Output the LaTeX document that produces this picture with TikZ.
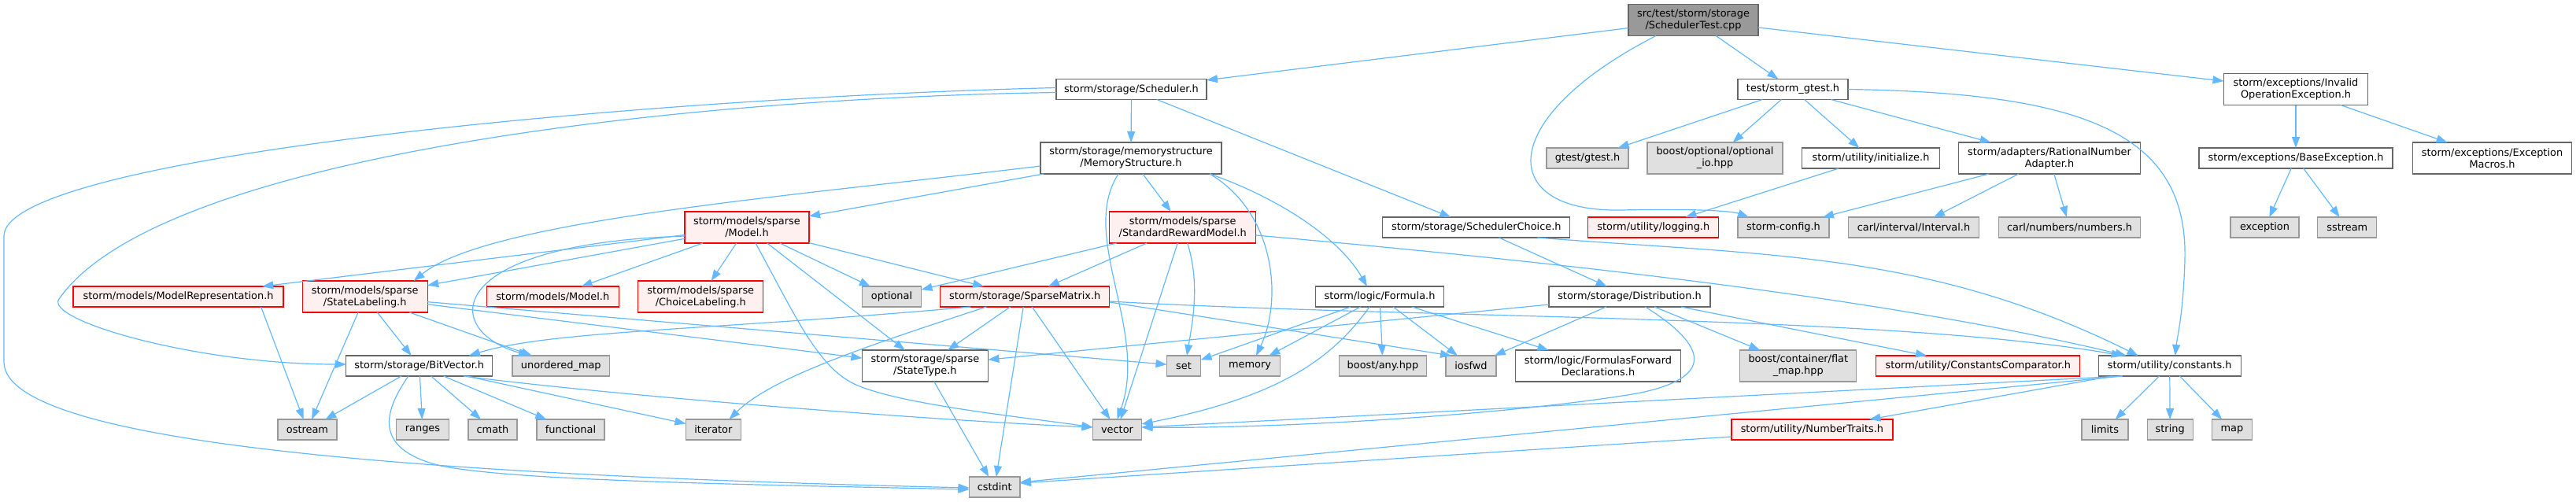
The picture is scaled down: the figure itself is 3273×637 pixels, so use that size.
\documentclass[tikz,border=0pt]{standalone}
\usepackage{fontspec}
\setmainfont{DejaVu Sans}
\usetikzlibrary{arrows.meta}
\definecolor{edgeblue}{HTML}{63B8FF}
\definecolor{bordgray}{HTML}{666666}
\definecolor{lightbord}{HTML}{999999}
\definecolor{extfill}{HTML}{E0E0E0}
\definecolor{redfill}{HTML}{FFF0F0}
\definecolor{redbord}{HTML}{FF0000}
\definecolor{rootfill}{HTML}{999999}
\begin{document}
\begin{tikzpicture}[x=1pt,y=-1pt,
  box/.style={rectangle, inner sep=0pt, outer sep=0pt, line width=1.3pt, align=center, font=\fontsize{12.9}{15}\selectfont, text=black},
  nwhite/.style={box, draw=bordgray, fill=white},
  ngray/.style={box, draw=lightbord, fill=extfill},
  nred/.style={box, draw=redbord, fill=redfill},
  nroot/.style={box, draw=bordgray, fill=rootfill},
  sa/.style={minimum height=26pt},
  sb/.style={minimum height=40pt},
  dep/.style={draw=edgeblue, line width=1.2pt, -{Triangle[length=14pt,width=10pt]}}
]
\useasboundingbox (0,0) rectangle (3273,637);

% row 0
\node[nroot,sb,minimum width=165pt] (root) at (2151.5,25.5) {src/test/storm/storage\\/SchedulerTest.cpp};
% row 1
\node[nwhite,sa,minimum width=191pt] (sched) at (1437.5,113.5) {storm/storage/Scheduler.h};
\node[nwhite,sa,minimum width=140pt] (gtst) at (2278,113.5) {test/storm\_gtest.h};
\node[nwhite,sb,minimum width=183pt] (invop) at (2917,113.5) {storm/exceptions/Invalid\\OperationException.h};
% row 2
\node[nwhite,sb,minimum width=230pt] (memstr) at (1437,201) {storm/storage/memorystructure\\/MemoryStructure.h};
\node[ngray,sa,minimum width=104pt] (gtesth) at (2017,201) {gtest/gtest.h};
\node[ngray,sb,minimum width=172pt] (optio) at (2179,201) {boost/optional/optional\\\_io.hpp};
\node[nwhite,sa,minimum width=175pt] (init) at (2377,201) {storm/utility/initialize.h};
\node[nwhite,sb,minimum width=231pt] (ratad) at (2604,201) {storm/adapters/RationalNumber\\Adapter.h};
\node[nwhite,sa,minimum width=246pt] (baseex) at (2917,201) {storm/exceptions/BaseException.h};
\node[nwhite,sb,minimum width=202pt] (exmac) at (3166.5,201) {storm/exceptions/Exception\\Macros.h};
% row 3
\node[nred,sb,minimum width=158pt] (smodel) at (949,289) {storm/models/sparse\\/Model.h};
\node[nred,sb,minimum width=186pt] (srm) at (1502.7,289) {storm/models/sparse\\/StandardRewardModel.h};
\node[nwhite,sa,minimum width=238pt] (schoice) at (1875.8,289) {storm/storage/SchedulerChoice.h};
\node[nred,sa,minimum width=166pt] (logging) at (2100.8,289) {storm/utility/logging.h};
\node[ngray,sa,minimum width=116pt] (config) at (2266,289) {storm-config.h};
\node[ngray,sa,minimum width=166pt] (interval) at (2431.5,289) {carl/interval/Interval.h};
\node[ngray,sa,minimum width=180pt] (numbers) at (2629.6,289) {carl/numbers/numbers.h};
\node[ngray,sa,minimum width=87pt] (exception) at (2877.5,289) {exception};
\node[ngray,sa,minimum width=75pt] (sstream) at (2982.3,289) {sstream};
% row 4
\node[nred,sa,minimum width=267pt] (modrep) at (226.6,377) {storm/models/ModelRepresentation.h};
\node[nred,sb,minimum width=159pt] (stlab) at (463.7,377) {storm/models/sparse\\/StateLabeling.h};
\node[nred,sa,minimum width=168pt] (mmodel) at (702.2,377) {storm/models/Model.h};
\node[nred,sb,minimum width=159pt] (chlab) at (890.3,377) {storm/models/sparse\\/ChoiceLabeling.h};
\node[ngray,sa,minimum width=75pt] (optional) at (1133,377) {optional};
\node[nred,sa,minimum width=215pt] (spmat) at (1302.3,377) {storm/storage/SparseMatrix.h};
\node[nwhite,sa,minimum width=163.5pt] (formula) at (1753,377) {storm/logic/Formula.h};
\node[nwhite,sa,minimum width=205pt] (distr) at (2070.5,377) {storm/storage/Distribution.h};
% row 5
\node[nwhite,sa,minimum width=186pt] (bitvec) at (532.8,465) {storm/storage/BitVector.h};
\node[ngray,sa,minimum width=123.5pt] (umap) at (712.8,465) {unordered\_map};
\node[nwhite,sb,minimum width=160pt] (stype) at (1175.4,465) {storm/storage/sparse\\/StateType.h};
\node[ngray,sa,minimum width=43pt] (set) at (1504,465) {set};
\node[ngray,sa,minimum width=77pt] (memory) at (1588,465) {memory};
\node[ngray,sa,minimum width=111pt] (anyhpp) at (1757,465) {boost/any.hpp};
\node[ngray,sa,minimum width=64pt] (iosfwd) at (1869,465) {iosfwd};
\node[nwhite,sb,minimum width=210.5pt] (ffd) at (2030.5,465) {storm/logic/FormulasForward\\Declarations.h};
\node[ngray,sb,minimum width=148pt] (flatmap) at (2284.8,465) {boost/container/flat\\\_map.hpp};
\node[nred,sa,minimum width=259pt] (ccomp) at (2513.3,465) {storm/utility/ConstantsComparator.h};
\node[nwhite,sa,minimum width=181pt] (consts) at (2756.7,465) {storm/utility/constants.h};
% row 6
\node[ngray,sa,minimum width=75pt] (ostream) at (390.5,546) {ostream};
\node[ngray,sa,minimum width=67pt] (ranges) at (537,546) {ranges};
\node[ngray,sa,minimum width=62pt] (cmath) at (626,546) {cmath};
\node[ngray,sa,minimum width=86pt] (functional) at (725,546) {functional};
\node[ngray,sa,minimum width=70pt] (iterator) at (906.4,546) {iterator};
\node[ngray,sa,minimum width=62pt] (vector) at (1419.5,546) {vector};
\node[nred,sa,minimum width=205pt] (numtraits) at (2302.4,546) {storm/utility/NumberTraits.h};
\node[ngray,sa,minimum width=59pt] (limits) at (2674.4,546) {limits};
\node[ngray,sa,minimum width=58pt] (string) at (2757.2,546) {string};
\node[ngray,sa,minimum width=51pt] (map) at (2835.9,546) {map};
% row 7
\node[ngray,sa,minimum width=64.5pt] (cstdint) at (1263.7,619) {cstdint};

% edges
\draw[dep] (root) -- (sched);
\draw[dep] (root) -- (gtst);
\draw[dep] (root) -- (invop);
\draw[dep] ([xshift=-47.5pt]root.south) .. controls (1900,150) and (1900,270) .. (2060,267) .. controls (2150,265) and (2200,268) .. ([xshift=-44pt]config.north);

\draw[dep] (sched) -- (memstr);
\draw[dep] (sched) -- (schoice);
\draw[dep] ([yshift=-4pt]sched.west) .. controls (850,125) and (200,200) .. (75,380) .. controls (56,407) and (250,463) .. ([yshift=2pt]bitvec.west);
\draw[dep] ([yshift=2pt]sched.west) .. controls (800,125) and (5,200) .. (5,300) -- (5,460) .. controls (5,570) and (600,605) .. ([yshift=-1pt]cstdint.west);

\draw[dep] (gtst) -- (gtesth);
\draw[dep] (gtst) -- (optio);
\draw[dep] (gtst) -- (init);
\draw[dep] (gtst) -- (ratad);
\draw[dep] (gtst.east) .. controls (2650,118) and (2780,170) .. (2776,330) .. controls (2774,400) and (2766,430) .. ([xshift=7pt]consts.north);

\draw[dep] (invop) -- (baseex);
\draw[dep] (invop) -- (exmac);
\draw[dep] (baseex) -- (exception);
\draw[dep] (baseex) -- (sstream);
\draw[dep] (init) -- (logging);
\draw[dep] (ratad) -- (config);
\draw[dep] (ratad) -- (interval);
\draw[dep] (ratad) -- (numbers);

\draw[dep] (memstr) -- (smodel);
\draw[dep] (memstr) -- (srm);
\draw[dep] ([yshift=-10pt]memstr.west) .. controls (1000,250) and (620,280) .. ([xshift=62pt]stlab.north);
\draw[dep] ([xshift=-16pt]memstr.south) .. controls (1370,300) and (1460,420) .. (vector.north);
\draw[dep] ([xshift=100pt]memstr.south) .. controls (1620,270) and (1630,380) .. ([xshift=8pt]memory.north);
\draw[dep] ([xshift=100pt]memstr.south) .. controls (1620,250) and (1700,300) .. ([xshift=-16pt]formula.north);

\draw[dep] (schoice) -- (distr);
\draw[dep] ([xshift=77pt]schoice.south) .. controls (2250,325) and (2450,320) .. ([xshift=-40pt]consts.north);

\draw[dep] (smodel) -- (modrep);
\draw[dep] (smodel) -- (stlab);
\draw[dep] (smodel) -- (mmodel);
\draw[dep] (smodel) -- (chlab);
\draw[dep] (smodel) -- (stype);
\draw[dep] (smodel) -- (optional);
\draw[dep] (smodel) -- (spmat);
\draw[dep] ([yshift=-11pt]smodel.west) .. controls (560,310) and (560,420) .. ([xshift=-40pt]umap.north);
\draw[dep] ([xshift=11pt]smodel.south) .. controls (1010,400) and (1040,470) .. (1090,490) .. controls (1150,515) and (1300,530) .. ([yshift=3pt]vector.west);

\draw[dep] (srm) -- (optional);
\draw[dep] (srm) -- (spmat);
\draw[dep] (srm) -- (vector);
\draw[dep] ([xshift=6pt]srm.south) .. controls (1525,360) and (1515,410) .. ([xshift=4pt]set.north);
\draw[dep] ([yshift=-10pt]srm.east) .. controls (2000,335) and (2400,380) .. ([xshift=-55pt]consts.north);

\draw[dep] (spmat) -- (stype);
\draw[dep] (spmat) -- (cstdint);
\draw[dep] (spmat) -- (vector);
\draw[dep] ([yshift=-7pt]spmat.east) -- ([xshift=-25pt]iosfwd.north);
\draw[dep] ([yshift=-6pt]spmat.east) .. controls (1800,405) and (2400,400) .. ([xshift=-60pt]consts.north);
\draw[dep] ([xshift=-69pt]spmat.south) .. controls (900,420) and (700,420) .. ([xshift=63pt]bitvec.north);
\draw[dep] ([xshift=-49pt]spmat.south) .. controls (1100,440) and (980,480) .. ([xshift=20pt]iterator.north);

\draw[dep] (formula) -- (set);
\draw[dep] (formula) -- (memory);
\draw[dep] (formula) -- (anyhpp);
\draw[dep] (formula) -- (iosfwd);
\draw[dep] (formula) -- (ffd);
\draw[dep] ([xshift=-13pt]formula.south) .. controls (1690,460) and (1620,505) .. ([yshift=7pt]vector.east);

\draw[dep] (distr) -- (stype);
\draw[dep] (distr) -- (iosfwd);
\draw[dep] (distr) -- (flatmap);
\draw[dep] (distr) -- (ccomp);
\draw[dep] ([xshift=20pt]distr.south) .. controls (2170,440) and (2180,480) .. (2080,500) .. controls (1900,530) and (1600,545) .. ([yshift=3pt]vector.east);

\draw[dep] (stlab) -- (ostream);
\draw[dep] (stlab) -- (bitvec);
\draw[dep] (stlab) -- (umap);
\draw[dep] (stlab) -- (stype);
\draw[dep] (stlab) -- (set);
\draw[dep] ([xshift=105pt]modrep.south) -- (ostream);

\draw[dep] (bitvec) -- (ostream);
\draw[dep] (bitvec) -- (ranges);
\draw[dep] (bitvec) -- (cmath);
\draw[dep] (bitvec) -- (functional);
\draw[dep] (bitvec) -- (iterator);
\draw[dep] ([xshift=56pt]bitvec.south) .. controls (800,505) and (1200,535) .. ([yshift=3pt]vector.west);
\draw[dep] ([xshift=-14pt]bitvec.south) .. controls (490,520) and (470,570) .. (560,592) .. controls (650,610) and (900,615) .. ([yshift=-3pt]cstdint.west);

\draw[dep] (stype) -- (cstdint);

\draw[dep] (consts) -- (limits);
\draw[dep] (consts) -- (string);
\draw[dep] (consts) -- (map);
\draw[dep] (consts) -- (numtraits);
\draw[dep] ([xshift=-60pt]consts.south) -- ([yshift=3pt]vector.east);
\draw[dep] ([xshift=-60pt]consts.south) -- ([yshift=6pt]cstdint.east);
\draw[dep] ([yshift=-9pt]numtraits.west) -- ([yshift=5pt]cstdint.east);
\end{tikzpicture}
\end{document}
